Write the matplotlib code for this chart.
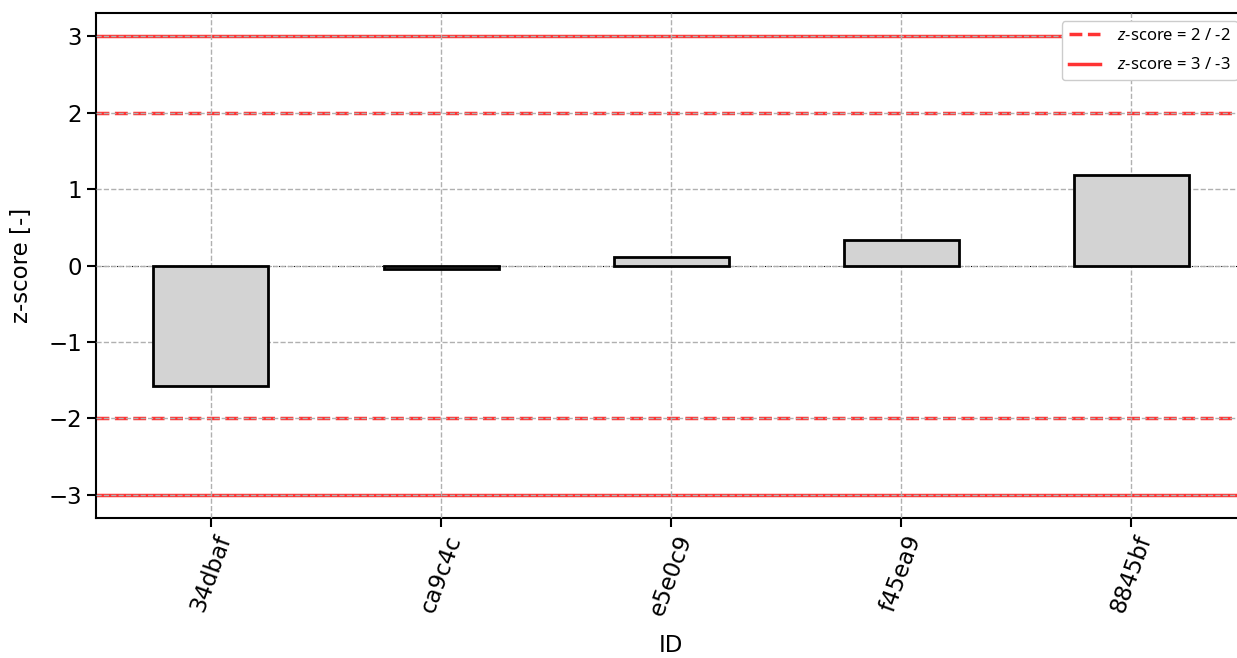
import matplotlib
matplotlib.use("Agg")
import matplotlib.pyplot as plt
import numpy as np

# z-scores per sample ID
ids = ["34dbaf", "ca9c4c", "e5e0c9", "f45ea9", "8845bf"]
z_scores = [-1.57, -0.04, 0.11, 0.34, 1.18]
warn_level = 2
alarm_level = 3
y_ticks = [-3, -2, -1, 0, 1, 2, 3]

plt.rcParams["mathtext.fontset"] = "custom"
plt.rcParams["mathtext.it"] = "Noto Sans:italic"
plt.rcParams["mathtext.rm"] = "Noto Sans"

fig = plt.figure(figsize=(12.37, 6.58), dpi=100)
# axes runs a bit past the right edge of the figure, as in the original crop
ax = fig.add_axes([0.0776, 0.213, 0.9297, 0.767])
ax.set_axisbelow(False)

x = np.arange(len(ids))
ax.bar(x, z_scores, width=0.5, color="lightgrey", edgecolor="black", linewidth=2, zorder=3)

# threshold lines
ax.axhline(warn_level, color="red", linestyle="--", linewidth=2.5, alpha=0.8,
           label=r"$z$-score = 2 / -2", zorder=2)
ax.axhline(-warn_level, color="red", linestyle="--", linewidth=2.5, alpha=0.8, zorder=2)
ax.axhline(alarm_level, color="red", linestyle="-", linewidth=2.5, alpha=0.8,
           label=r"$z$-score = 3 / -3", zorder=2)
ax.axhline(-alarm_level, color="red", linestyle="-", linewidth=2.5, alpha=0.8, zorder=2)
ax.axhline(0, color="black", linestyle=":", linewidth=0.8, zorder=2.2)

ax.grid(True, linestyle="--", color="#b0b0b0", linewidth=1)

ax.set_xlim(-0.5, 4.5)
ax.set_ylim(-3.3, 3.3)
ax.set_yticks(y_ticks)
ax.set_xticks(x)
ax.set_xticklabels(ids, rotation=70, fontsize=16.5)
ax.tick_params(axis="y", labelsize=16.5, width=1.5, length=6.5)
ax.tick_params(axis="x", width=1.5, length=6.5)
for s in ax.spines.values():
    s.set_linewidth(1.5)

ax.set_xlabel("ID", fontsize=16.5, labelpad=11)
ax.set_ylabel("z-score [-]", fontsize=16.5, labelpad=11)

leg = ax.legend(loc="upper right", prop={"family": "Noto Sans", "size": 12}, framealpha=1,
                edgecolor="#cccccc", handlelength=1.9, handletextpad=1.0, labelspacing=0.8)

fig.savefig("out.png", dpi=100)
